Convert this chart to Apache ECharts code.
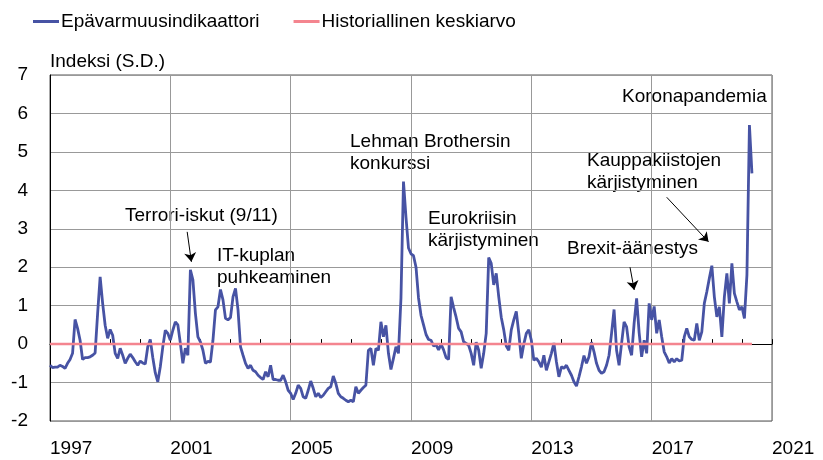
<!DOCTYPE html>
<html>
<head>
<meta charset="utf-8">
<script src="https://cdn.jsdelivr.net/npm/echarts@6/dist/echarts.min.js"></script>
<style>
    html, body { margin: 0; padding: 0; background: #fff; }
    #chart { width: 823px; height: 460px; }
</style>
</head>
<body>
<div id="chart"></div>
<script>
// monthly index, first value = Jan 1997
var startYear = 1997;
var indicator = [
    -0.55, -0.61, -0.60, -0.60, -0.55, -0.58, -0.63, -0.50, -0.40, -0.24, 0.64, 0.41,
    0.10, -0.40, -0.35, -0.35, -0.33, -0.29, -0.23, 0.80, 1.75, 1.06, 0.49, 0.15,
    0.38, 0.23, -0.24, -0.37, -0.11, -0.29, -0.50, -0.37, -0.26, -0.35, -0.46, -0.55,
    -0.44, -0.49, -0.52, -0.07, 0.12, -0.35, -0.75, -0.98, -0.59, -0.07, 0.36, 0.28,
    0.10, 0.36, 0.58, 0.50, 0.02, -0.50, -0.11, -0.29, 1.93, 1.67, 0.80, 0.19,
    0.06, -0.16, -0.50, -0.45, -0.47, 0.10, 0.89, 0.97, 1.42, 1.15, 0.67, 0.63,
    0.69, 1.23, 1.45, 0.89, -0.07, -0.29, -0.50, -0.63, -0.55, -0.68, -0.72, -0.81,
    -0.87, -0.92, -0.72, -0.85, -0.55, -0.92, -0.92, -0.94, -0.94, -0.81, -0.98, -1.20,
    -1.28, -1.44, -1.28, -1.07, -1.15, -1.37, -1.41, -1.20, -0.96, -1.15, -1.37, -1.28,
    -1.39, -1.33, -1.24, -1.15, -1.11, -0.83, -1.02, -1.28, -1.37, -1.41, -1.46, -1.50,
    -1.46, -1.50, -1.11, -1.28, -1.20, -1.13, -1.07, -0.16, -0.11, -0.55, -0.11, -0.16,
    0.58, 0.19, 0.49, -0.24, -0.66, -0.37, -0.07, -0.24, 1.20, 4.23, 3.30, 2.50,
    2.35, 2.30, 2.00, 1.20, 0.75, 0.50, 0.25, 0.12, 0.10, -0.05, -0.02, -0.15,
    0.00, -0.15, -0.35, -0.40, 1.23, 0.95, 0.70, 0.41, 0.32, 0.06, 0.02, -0.03,
    -0.24, -0.55, 0.05, -0.16, -0.63, -0.24, 0.28, 2.25, 2.10, 1.54, 1.84, 1.23,
    0.70, 0.37, -0.05, -0.16, 0.37, 0.63, 0.85, 0.28, -0.37, 0.00, 0.28, 0.37,
    0.10, -0.42, -0.37, -0.46, -0.60, -0.29, -0.68, -0.46, -0.24, 0.03, -0.46, -0.85,
    -0.59, -0.63, -0.55, -0.68, -0.81, -0.98, -1.09, -0.85, -0.59, -0.30, -0.50, -0.33,
    0.05, -0.20, -0.50, -0.68, -0.76, -0.72, -0.55, -0.29, 0.28, 0.90, -0.16, -0.55,
    0.02, 0.58, 0.45, -0.07, -0.29, 0.54, 1.19, 0.30, -0.33, 0.10, -0.24, 1.06,
    0.63, 0.98, 0.28, 0.63, 0.19, -0.20, -0.33, -0.49, -0.38, -0.46, -0.38, -0.44,
    -0.42, 0.19, 0.41, 0.19, 0.12, 0.10, 0.54, 0.10, 0.32, 1.06, 1.36, 1.71,
    2.04, 1.23, 0.71, 0.97, 0.19, 1.23, 1.84, 1.06, 2.10, 1.32, 1.10, 0.89,
    0.97, 0.67, 1.80, 5.70, 4.44
];
var historicalMean = 0;
var meanMonths = 280; // red line stops one month before the last value
var yearTicks = ['1997', '2001', '2005', '2009', '2013', '2017', '2021'];
var seriesNames = ['Epävarmuusindikaattori', 'Historiallinen keskiarvo'];

// arrows: [from, to] in [year, index]
var arrows = [
    [[2001.56, 2.92], [2001.70, 2.14]],
    [[2016.28, 2.00], [2016.42, 1.41]],
    [[2017.50, 3.82], [2018.89, 2.66]]
];
var notes = [
    { text: 'Terrori-iskut (9/11)', x: 125, y: 205 },
    { text: 'IT-kuplan\npuhkeaminen', x: 217, y: 245 },
    { text: 'Lehman Brothersin\nkonkurssi', x: 350, y: 131 },
    { text: 'Eurokriisin\nkärjistyminen', x: 428, y: 208 },
    { text: 'Brexit-äänestys', x: 567, y: 238 },
    { text: 'Kauppakiistojen\nkärjistyminen', x: 587, y: 150 },
    { text: 'Koronapandemia', x: 622, y: 86 }
];

var font = 'Liberation Sans, Arial, sans-serif';
var blue = '#4753a4';
var pink = '#f4858f';

var lineData = indicator.map(function (v, i) {
    return [startYear + i / 12, v];
});
var meanData = [[startYear, historicalMean], [startYear + meanMonths / 12, historicalMean]];

var chart = echarts.init(document.getElementById('chart'), null, { renderer: 'canvas' });
var option = {
    animation: false,
    textStyle: { fontFamily: font },
    legend: {
        left: 28,
        top: 7,
        itemWidth: 26,
        itemHeight: 3,
        itemGap: 34,
        icon: 'rect',
        textStyle: { fontSize: 19, color: '#000', fontFamily: font, padding: [0, 0, 0, -3] },
        data: seriesNames
    },
    grid: {
        left: 50,
        right: 51,
        top: 75,
        bottom: 39,
        show: true,
        borderColor: '#555',
        borderWidth: 1
    },
    xAxis: {
        type: 'value',
        min: 1997,
        max: 2021,
        interval: 4,
        axisLine: { lineStyle: { color: '#000', width: 1 } },
        axisTick: { show: true, inside: true, length: 5, lineStyle: { color: '#000' } },
        minorTick: { show: true, splitNumber: 4, length: 5, lineStyle: { color: '#000' } },
        splitLine: { show: true, lineStyle: { color: '#999', width: 1 } },
        axisLabel: {
            fontSize: 19,
            color: '#000',
            fontFamily: font,
            align: 'left',
            margin: 18,
            showMaxLabel: true,
            formatter: function (v) {
                var s = String(Math.round(v));
                return yearTicks.indexOf(s) >= 0 ? s : '';
            }
        }
    },
    yAxis: {
        type: 'value',
        min: -2,
        max: 7,
        interval: 1,
        name: 'Indeksi (S.D.)',
        nameLocation: 'end',
        nameGap: 13,
        nameTextStyle: { fontSize: 19, color: '#000', fontFamily: font, align: 'left', verticalAlign: 'middle' },
        axisLine: { show: true, lineStyle: { color: '#000', width: 1 } },
        axisTick: { show: false },
        splitLine: { show: true, lineStyle: { color: '#999', width: 1 } },
        axisLabel: { fontSize: 19, color: '#000', fontFamily: font, margin: 22 }
    },
    series: [
        {
            name: seriesNames[0],
            type: 'line',
            data: lineData,
            showSymbol: false,
            symbol: 'none',
            color: blue,
            lineStyle: { color: blue, width: 2.8 },
            markLine: {
                silent: true,
                symbol: ['none', 'arrow'],
                symbolSize: 9,
                label: { show: false },
                lineStyle: { color: '#000', width: 1, type: 'solid' },
                data: arrows.map(function (a) {
                    return [{ coord: a[0] }, { coord: a[1] }];
                })
            }
        },
        {
            name: seriesNames[1],
            type: 'line',
            data: meanData,
            showSymbol: false,
            symbol: 'none',
            color: pink,
            lineStyle: { color: pink, width: 2.5 }
        }
    ],
    graphic: notes.map(function (n) {
        return {
            type: 'text',
            left: n.x,
            top: n.y,
            silent: true,
            style: { text: n.text, font: '19px ' + font, fill: '#000', lineHeight: 22 }
        };
    })
};
chart.setOption(option);
window.addEventListener('resize', function () { chart.resize(); });
</script>
</body>
</html>
